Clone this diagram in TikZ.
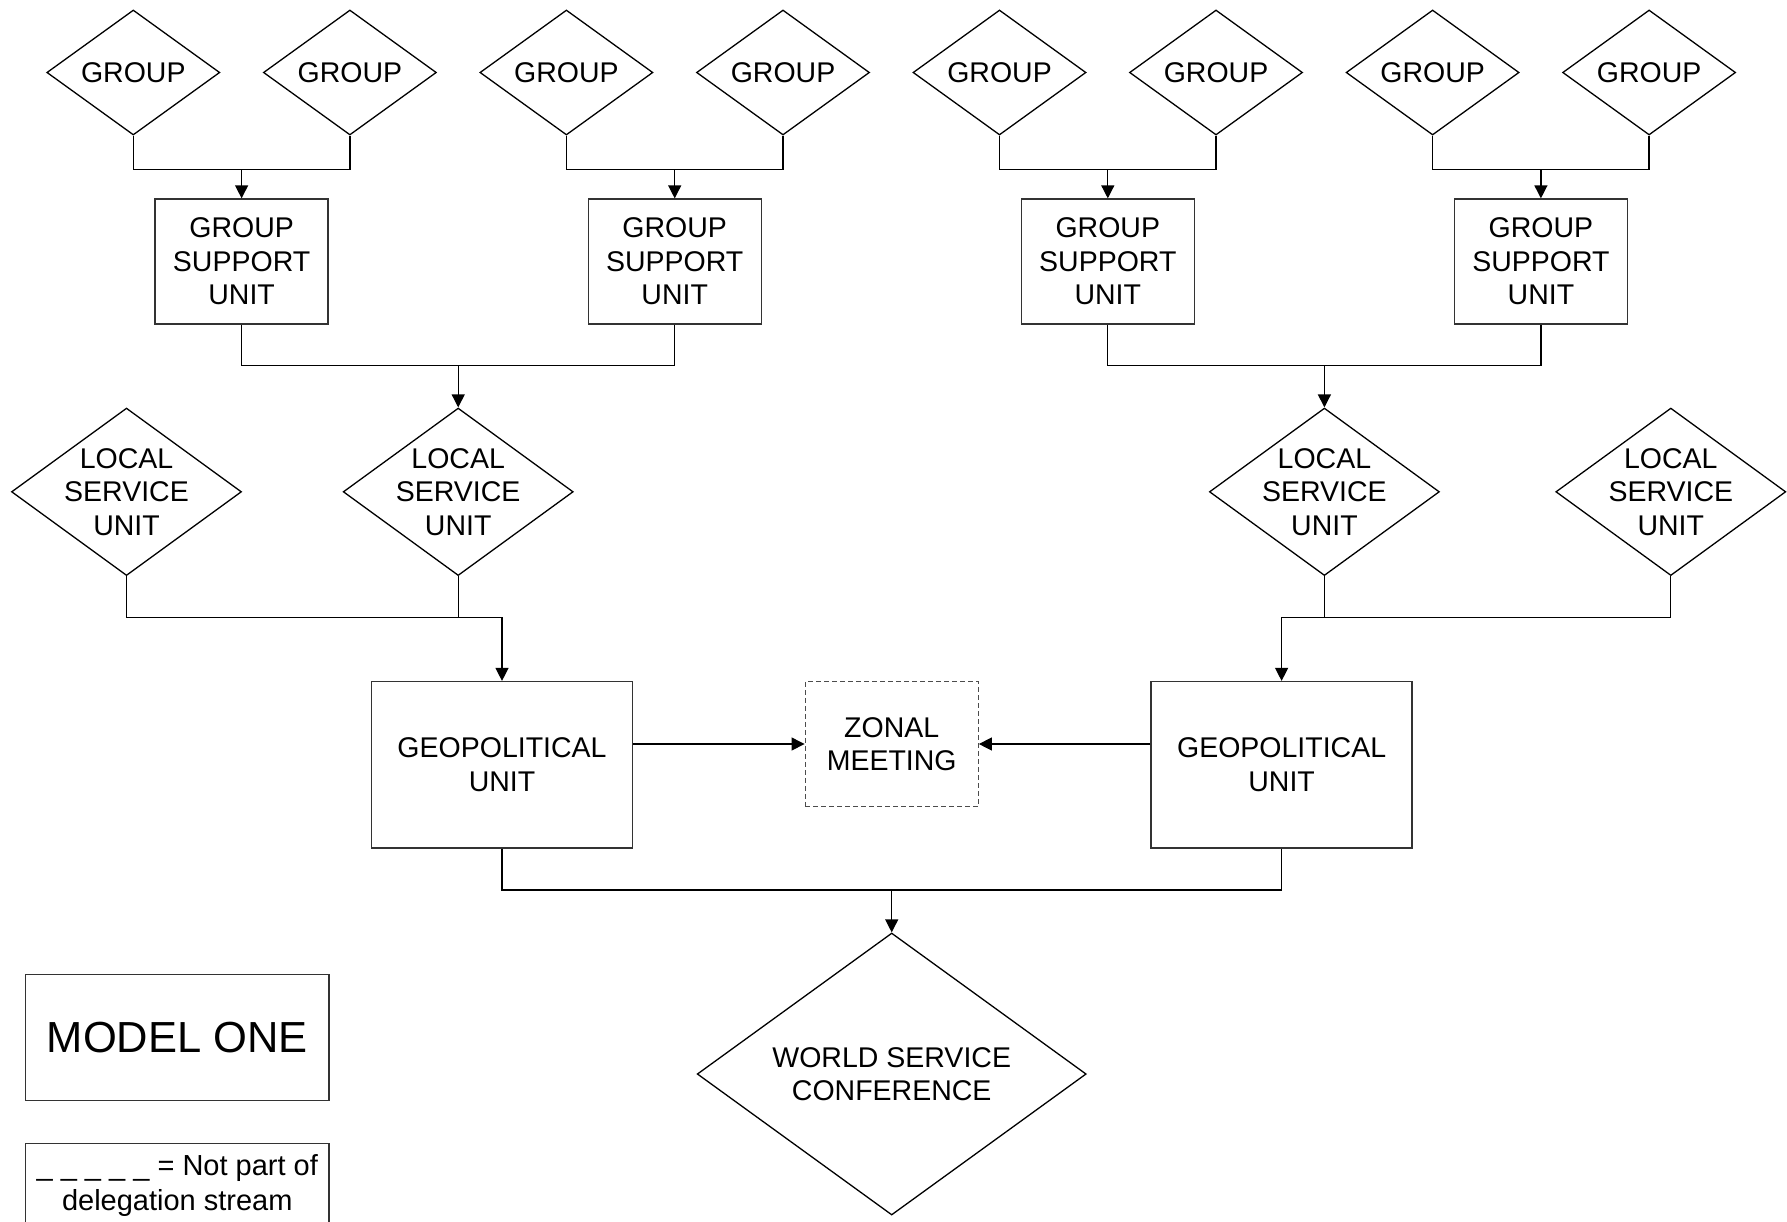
\documentclass[tikz,border=0pt]{standalone}
\usepackage{fontspec}
\setmainfont{Liberation Sans}
\usetikzlibrary{shapes.geometric,arrows.meta}
\tikzstyle{box} = [rectangle, draw=black!80, inner sep=0pt, align=center, minimum width=173pt, minimum height=125pt]
\tikzstyle{zone} = [box, draw=black!70, line width=1pt, dash pattern=on 5pt off 3pt, minimum width=173.3pt]
\tikzstyle{gem} = [diamond, draw, inner sep=0pt, minimum width=173pt, minimum height=125pt]
\tikzstyle{lgem} = [gem, minimum width=230pt, minimum height=167.5pt]
\tikzstyle{wgem} = [gem, minimum width=389pt, minimum height=282pt]
\newcommand{\gemtext}[1]{\smash{\raisebox{-0.33em}{\begin{tabular}{@{}c@{}}#1\end{tabular}}}}

\begin{document}
\begin{tikzpicture}[x=1pt, y=-1pt, line width=1.3pt, >={Triangle[length=13pt,width=13pt]},
    font=\fontsize{28.5}{33.6}\selectfont]
  \path [use as bounding box, fill=white] (0,0) rectangle (1787,1221);
  % groups
  \node (a) at ( 133.3,72.5) [gem] {\gemtext{GROUP}};
  \node (b) at ( 349.9,72.5) [gem] {\gemtext{GROUP}};
  \node (c) at ( 566.4,72.5) [gem] {\gemtext{GROUP}};
  \node (d) at ( 783.0,72.5) [gem] {\gemtext{GROUP}};
  \node (e) at ( 999.5,72.5) [gem] {\gemtext{GROUP}};
  \node (f) at (1216.0,72.5) [gem] {\gemtext{GROUP}};
  \node (g) at (1432.6,72.5) [gem] {\gemtext{GROUP}};
  \node (h) at (1649.1,72.5) [gem] {\gemtext{GROUP}};
  % group support units
  \node (i) at ( 241.6,261.5) [box] {GROUP\\SUPPORT\\UNIT};
  \node (j) at ( 674.7,261.5) [box] {GROUP\\SUPPORT\\UNIT};
  \node (k) at (1107.8,261.5) [box] {GROUP\\SUPPORT\\UNIT};
  \node (l) at (1540.9,261.5) [box] {GROUP\\SUPPORT\\UNIT};
  % local service units
  \node (m) at ( 126.5,491.8) [lgem] {\gemtext{LOCAL\\SERVICE\\UNIT}};
  \node (n) at ( 458.2,491.8) [lgem] {\gemtext{LOCAL\\SERVICE\\UNIT}};
  \node (o) at (1324.4,491.8) [lgem] {\gemtext{LOCAL\\SERVICE\\UNIT}};
  \node (p) at (1670.8,491.8) [lgem] {\gemtext{LOCAL\\SERVICE\\UNIT}};
  % geopolitical units, zonal meeting, wsc
  \node (q) at ( 502.0,764.8) [box, minimum width=261pt, minimum height=166.5pt] {GEOPOLITICAL\\UNIT};
  \node (r) at (1281.6,764.8) [box, minimum width=261pt, minimum height=166.5pt] {GEOPOLITICAL\\UNIT};
  \node (s) at ( 891.7,744.0) [zone] {ZONAL\\MEETING};
  \node (t) at ( 891.7,1074.0) [wgem] {\gemtext{WORLD SERVICE\\CONFERENCE}};
  % legend
  \node (u) at (177.3,1037.5) [box, minimum width=303.3pt, minimum height=126.4pt,
    font=\fontsize{43.5}{50}\selectfont] {MODEL ONE};
  \node (v) at (177.3,1142.7) [box, anchor=north, minimum width=303.3pt, minimum height=84.6pt,
    font=\fontsize{29}{34.7}\selectfont] {\_ \_ \_ \_ \_ = Not part of\\delegation stream};
  % junctions
  \coordinate (ab) at ( 241.6,169.3);
  \coordinate (cd) at ( 674.7,169.3);
  \coordinate (ef) at (1107.8,169.3);
  \coordinate (gh) at (1540.9,169.3);
  \coordinate (ij) at ( 458.2,365.8);
  \coordinate (kl) at (1324.4,365.8);
  \coordinate (mn) at ( 502.0,617.7);
  \coordinate (op) at (1281.6,617.7);
  \coordinate (qr) at ( 891.7,890.1);
  \draw (a.south) |- (ab) -| (b.south);
  \draw (c.south) |- (cd) -| (d.south);
  \draw (e.south) |- (ef) -| (f.south);
  \draw (g.south) |- (gh) -| (h.south);
  \draw [->] (ab) -- (i);
  \draw [->] (cd) -- (j);
  \draw [->] (ef) -- (k);
  \draw [->] (gh) -- (l);
  \draw (i.south) |- (ij) -| (j.south);
  \draw (k.south) |- (kl) -| (l.south);
  \draw [->] (ij) -- (n);
  \draw [->] (kl) -- (o);
  \draw [->] (m.south) |- (mn) -- (q);
  \draw (n.south) -- (n.south |- mn);
  \draw [->] (p.south) |- (op) -- (r);
  \draw (o.south) -- (o.south |- op);
  \draw [->] (q.east |- s.west) -- (s.west);
  \draw [->] (r.west |- s.east) -- (s.east);
  \draw (q.south) |- (qr) -| (r.south);
  \draw [->] (qr) -- (t);
\end{tikzpicture}
\end{document}
